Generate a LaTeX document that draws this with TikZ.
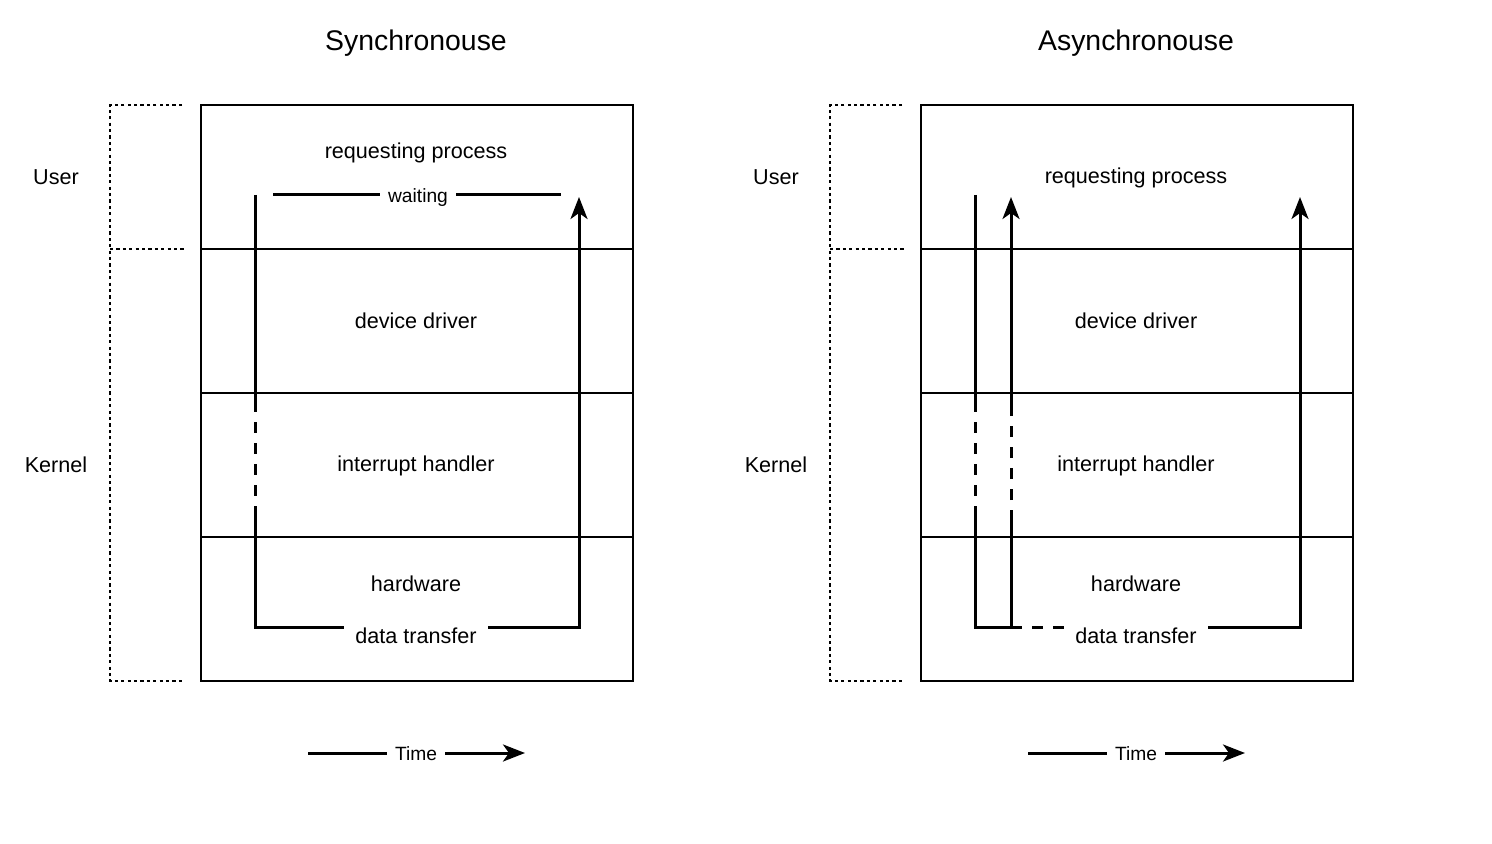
\documentclass[tikz,border=0pt]{standalone}
\usepackage{fontspec}
\setmainfont{Liberation Sans}
\usetikzlibrary{arrows.meta}

\tikzset{
  layer/.style={draw, line width=0.75pt, minimum width=216pt, minimum height=72pt, inner sep=0pt},
  flow/.style={line width=1.5pt},
  gap/.style={flow, dash pattern=on 5.5pt off 5pt},
  gapoff/.style={gap, dash phase=5.5pt},
  bracket/.style={line width=0.7pt, dash pattern=on 1.6pt off 1.6pt},
  head/.style={-{Stealth[length=11pt, width=8.5pt, inset=3pt]}},
  title/.style={font=\fontsize{14.2}{16}\selectfont},
  lbl/.style={font=\fontsize{10.8}{13}\selectfont},
  small/.style={font=\fontsize{9.6}{11}\selectfont},
  cut/.style={fill=white, inner ysep=1pt}
}

\begin{document}
\begin{tikzpicture}[x=0.5pt, y=-0.5pt]
    \useasboundingbox (0,0) rectangle (1492,844);

    % Synchronouse
    \node[title] (s-title) at (416,43) {Synchronouse};

    \draw[bracket] (182,105) -- (110,105) -- (110,681) -- (184,681);
    \draw[bracket] (110,249) -- (184,249);
    \node[lbl] (s-user) at (56,177) {User};
    \node[lbl] (s-kernel) at (56,465) {Kernel};

    \node[layer] (s-proc) at (417,177) {};
    \node[layer] (s-drv) at (417,321) {};
    \node[layer] (s-irq) at (417,465) {};
    \node[layer] (s-hw) at (417,609) {};

    \node[lbl] (s-proc-txt) at (416,153) {requesting process};
    \node[lbl] (s-drv-txt) at (416,321) {device driver};
    \node[lbl] (s-irq-txt) at (416,466) {interrupt handler};
    \node[lbl] (s-hw-txt) at (416,584) {hardware};

    \coordinate (s-top) at (255,195);
    \coordinate (s-d1) at (255,412);
    \coordinate (s-d2) at (255,510);
    \coordinate (s-bot) at (255,627);
    \coordinate (s-turn) at (579,627);
    \coordinate (s-end) at (579,197);
    \coordinate (s-wa) at (273,195);
    \coordinate (s-wb) at (561,195);

    \draw[flow] (s-top) -- (s-d1);
    \draw[gapoff] (s-d1) -- (s-d2);
    \draw[flow, head] (s-d2) -- (s-bot) -- (s-turn) -- (s-end);
    \draw[flow] (s-wa) -- (s-wb);
    \node[small, cut, inner xsep=4pt] (s-wait) at (418,198) {waiting};
    \node[lbl, cut, inner xsep=5.5pt] (s-xfer) at (416,636) {data transfer};

    \coordinate (s-ta) at (308,753);
    \coordinate (s-tb) at (525,753);
    \draw[flow, head] (s-ta) -- (s-tb);
    \node[small, cut, inner xsep=4pt] (s-time) at (416,754) {Time};

    % Asynchronouse
    \node[title] (a-title) at (1136,43) {Asynchronouse};

    \draw[bracket] (902,105) -- (830,105) -- (830,681) -- (904,681);
    \draw[bracket] (830,249) -- (904,249);
    \node[lbl] (a-user) at (776,177) {User};
    \node[lbl] (a-kernel) at (776,465) {Kernel};

    \node[layer] (a-proc) at (1137,177) {};
    \node[layer] (a-drv) at (1137,321) {};
    \node[layer] (a-irq) at (1137,465) {};
    \node[layer] (a-hw) at (1137,609) {};

    \node[lbl] (a-proc-txt) at (1136,178) {requesting process};
    \node[lbl] (a-drv-txt) at (1136,321) {device driver};
    \node[lbl] (a-irq-txt) at (1136,466) {interrupt handler};
    \node[lbl] (a-hw-txt) at (1136,584) {hardware};

    \coordinate (a-top) at (975,195);
    \coordinate (a-d1) at (975,412);
    \coordinate (a-d2) at (975,510);
    \coordinate (a-bot) at (975,627);
    \coordinate (a-back) at (1011,627);
    \coordinate (a-u2) at (1011,510);
    \coordinate (a-u1) at (1011,412);
    \coordinate (a-ret) at (1011,197);
    \coordinate (a-mid) at (1136,627);
    \coordinate (a-turn) at (1300,627);
    \coordinate (a-end) at (1300,197);

    \draw[flow] (a-top) -- (a-d1);
    \draw[gapoff] (a-d1) -- (a-d2);
    \draw[flow] (a-d2) -- (a-bot) -- (a-back) -- (a-u2);
    \draw[gapoff] (a-u2) -- (a-u1);
    \draw[flow, head] (a-u1) -- (a-ret);
    \draw[gap] (a-back) -- (a-mid);
    \draw[flow, head] (a-mid) -- (a-turn) -- (a-end);
    \node[lbl, cut, inner xsep=5.5pt] (a-xfer) at (1136,636) {data transfer};

    \coordinate (a-ta) at (1028,753);
    \coordinate (a-tb) at (1245,753);
    \draw[flow, head] (a-ta) -- (a-tb);
    \node[small, cut, inner xsep=4pt] (a-time) at (1136,754) {Time};
\end{tikzpicture}
\end{document}
